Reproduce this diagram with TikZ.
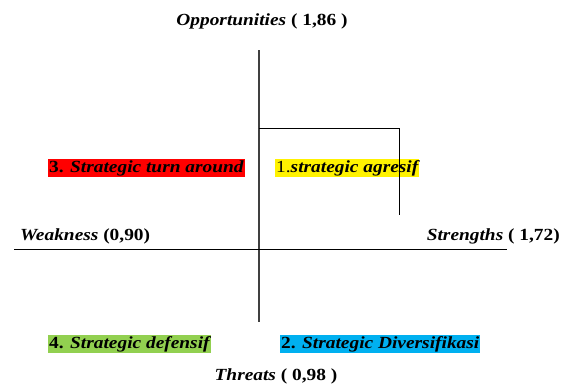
\documentclass[tikz,border=0pt]{standalone}
\usepackage{fontspec}
\setmainfont{Liberation Serif}
\newfontfamily\widefont[FakeStretch=1.14]{Liberation Serif}
\begin{document}
\begin{tikzpicture}[x=1pt,y=-1pt,
  lbl/.style={font=\widefont\fontsize{17}{19}\selectfont\bfseries, inner sep=0pt},
  quad/.style={font=\widefont\fontsize{17}{19}\selectfont\bfseries, inner xsep=1pt, inner ysep=0pt, text height=13pt, text depth=5pt, anchor=west}]
\useasboundingbox (0,0) rectangle (564,383);
\node[lbl] (opp) at (262,21) {\itshape Opportunities \upshape ( 1,86 )};
\node[lbl] (thr) at (276,376) {\itshape Threats \upshape ( 0,98 )};
\node[lbl, anchor=west] (weak) at (20,236) {\itshape Weakness \upshape (0,90)};
\node[lbl, anchor=east] (str) at (560,236) {\itshape Strengths \upshape ( 1,72)};
\coordinate (vtop) at (259,50);
\coordinate (vbot) at (259,322);
\coordinate (hl) at (14,249);
\coordinate (hr) at (507,249);
\coordinate (c1) at (259,128);
\coordinate (c2) at (399,128);
\coordinate (c3) at (399,215);
\node[quad, fill=red] (q3) at (48,168) {3. \itshape Strategic turn around};
\node[quad, fill=yellow] (q1) at (275,168) {\mdseries 1.\bfseries\itshape strategic agresif};
\node[quad, fill={rgb,255:red,146;green,208;blue,80}] (q4) at (48,344) {4. \itshape Strategic defensif};
\node[quad, fill={rgb,255:red,0;green,176;blue,240}] (q2) at (280,344) {2. \itshape Strategic Diversifikasi};
\draw[line width=1.3pt, black!75] (vtop) -- (vbot);
\draw[line width=0.9pt] (hl) -- (hr);
\draw[line width=0.9pt] (c1) -- (c2) -- (c3);
\end{tikzpicture}
\end{document}
